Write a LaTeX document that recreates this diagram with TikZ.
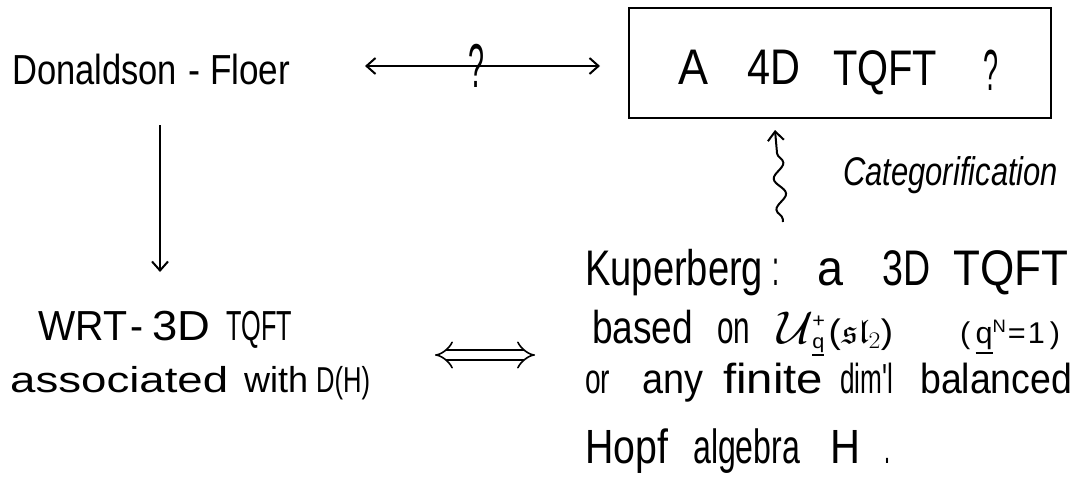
\RequirePackage{fix-cm}
\documentclass[tikz,border=0pt]{standalone}
\usepackage{amssymb}
\usepackage{graphicx}
\usepackage{fontspec}
\newfontfamily\hand{Liberation Sans}
\usetikzlibrary{arrows.meta,decorations.pathmorphing}

% set a word at a given width, keeping its height
\newcommand\fitw[2]{\resizebox{#1}{\height}{#2}}
% underlined q
\newcommand\uq{\vtop{\hbox{q}\kern0.08em\hrule height 0.09em}}
% a type size
\newcommand\fsz[1]{\fontsize{#1}{#1}\selectfont}

\tikzset{
  word/.style={inner sep=0pt, anchor=base west},
  sz/.style={word, font=\hand\fsz{#1}},
  catword/.style={word, font=\hand\itshape\fsz{40}},
  conn/.style={line width=2pt},
  barb/.style={conn, -{Straight Barb[length=9pt,width=16pt]}},
  twobarb/.style={conn, {Straight Barb[length=9pt,width=16pt]}-{Straight Barb[length=9pt,width=16pt]}},
}

\begin{document}
\begin{tikzpicture}[x=1pt, y=-1pt]
\useasboundingbox (0,0) rectangle (1091,484);

% top left label
\node[sz=42] (don) at (12,85) {\fitw{165pt}{Donaldson}};
\node[sz=42] (dash) at (188,85) {\fitw{12pt}{-}};
\node[sz=42] (floer) at (210,85) {\fitw{80pt}{Floer}};

% the conjectural 4D theory
\node[draw, line width=1.5pt, minimum width=422pt, minimum height=110pt, inner sep=0pt] (box) at (840,63) {};
\node[sz=50] (bA) at (678,85) {\fitw{30pt}{A}};
\node[sz=50] (b4D) at (747,85) {\fitw{53pt}{4D}};
\node[sz=50] (bTQFT) at (833,85) {\fitw{104pt}{TQFT}};
\node[sz=58] (bQ) at (983,91) {\fitw{15pt}{?}};

% unknown relation between the two
\coordinate (qL) at (365,66);
\coordinate (qR) at (600,66);
\draw[twobarb] (qL) -- (qR);
\node[sz=62, anchor=base] (qmark) at (476,88) {\fitw{16pt}{?}};

% categorification
\node[catword] (cat) at (843,185) {\fitw{215pt}{Categorification}};
\coordinate (wvB) at (783,222);
\coordinate (wvT) at (775,130);
\draw[barb, decorate, decoration={snake, segment length=31pt, amplitude=5.5pt, pre length=3pt, post length=12pt}] (wvB) -- (wvT);

% Kuperberg block
\node[sz=50] (k1) at (585,285) {\fitw{178pt}{Kuperberg}};
\node[sz=50] (k2) at (772,285) {\fitw{7pt}{:}};
\node[sz=50] (k3) at (817,285) {\fitw{26pt}{a}};
\node[sz=50] (k4) at (882,285) {\fitw{48pt}{3D}};
\node[sz=50] (k5) at (953,285) {\fitw{115pt}{TQFT}};

\node[sz=46] (k6) at (592,343) {\fitw{101pt}{based}};
\node[sz=46] (k7) at (717,343) {\fitw{33pt}{on}};
\node[sz=46] (k8) at (777,343) {\fitw{116pt}{$\mathcal{U}$\kern-1pt\rlap{\raisebox{16pt}{\fsz{20}+}}\raisebox{-5pt}{\fsz{20}\uq}\kern4pt{\fsz{34}(\kern1pt$\mathfrak{sl}_2$)}}};
\node[sz=30] (k9) at (960,343) {\fitw{100pt}{(\,\uq\raisebox{11pt}{\fsz{18}N}\kern2pt=\kern2pt1\,)}};

\node[sz=42] (k10) at (585,393) {\fitw{25pt}{or}};
\node[sz=42] (k11) at (642,393) {\fitw{61pt}{any}};
\node[sz=42] (k12) at (723,393) {\fitw{100pt}{finite}};
\node[sz=42] (k13) at (840,393) {\fitw{53pt}{dim'l}};
\node[sz=42] (k14) at (920,393) {\fitw{152pt}{balanced}};

\node[sz=48] (k15) at (585,463) {\fitw{83pt}{Hopf}};
\node[sz=48] (k16) at (693,463) {\fitw{107pt}{algebra}};
\node[sz=48] (k17) at (830,463) {\fitw{30pt}{H}};
\node[sz=48] (k18) at (884,463) {\fitw{6pt}{.}};

% WRT block
\node[sz=42] (w1) at (38,340) {\fitw{89pt}{WRT}};
\node[sz=42] (w2) at (130,340) {\fitw{13pt}{-}};
\node[sz=42] (w3) at (152,340) {\fitw{58pt}{3D}};
\node[sz=42] (w4) at (226,340) {\fitw{66pt}{TQFT}};
\node[sz=36] (w5) at (10,392) {\fitw{218pt}{associated}};
\node[sz=36] (w6) at (244,392) {\fitw{64pt}{with}};
\node[sz=36] (w7) at (316,392) {\fitw{54pt}{D(H)}};

% vertical arrow
\coordinate (dA) at (160,125);
\coordinate (dB) at (160,272);
\draw[barb] (dA) -- (dB);

% equivalence
\coordinate (eL) at (435,355);
\coordinate (eR) at (535,355);
\draw[line width=1.6pt, double distance=8pt, {Implies}-{Implies}] (eL) -- (eR);
\end{tikzpicture}
\end{document}
